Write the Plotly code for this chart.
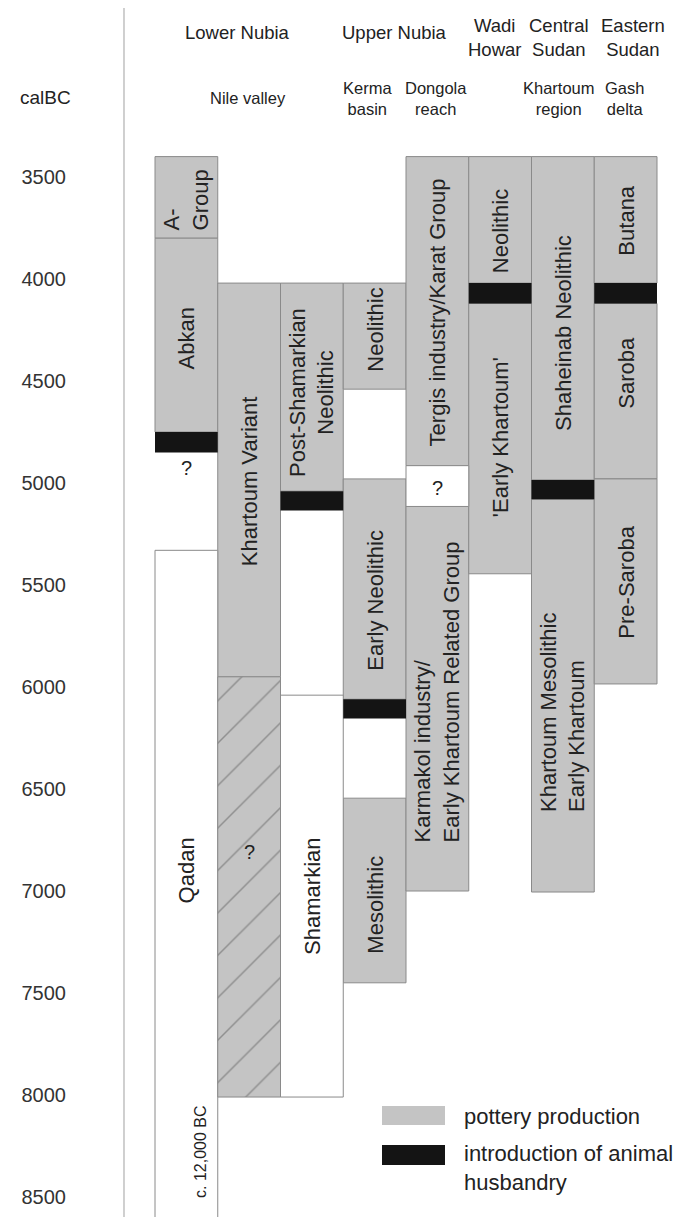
import plotly.graph_objects as go

# ---------------- data ----------------
region_names = ["Lower Nubia", "Upper Nubia", "Wadi<br>Howar", "Central<br>Sudan", "Eastern<br>Sudan"]
subregion_names = ["Nile valley", "Kerma<br>basin", "Dongola<br>reach", "Khartoum<br>region", "Gash<br>delta"]
year_ticks = [3500, 4000, 4500, 5000, 5500, 6000, 6500, 7000, 7500, 8000, 8500]

period_labels = ["A-<br>Group", "Abkan", "?", "Qadan",
                 "Khartoum Variant", "?",
                 "Post-Shamarkian<br>Neolithic", "Shamarkian",
                 "Neolithic", "Early Neolithic", "Mesolithic",
                 "Tergis industry/Karat Group", "?", "Karmakol industry/<br>Early Khartoum Related Group",
                 "Neolithic", "'Early Khartoum'",
                 "Shaheinab Neolithic", "Khartoum Mesolithic<br>Early Khartoum",
                 "Butana", "Saroba", "Pre-Saroba"]
period_column = [0, 0, 0, 0, 1, 1, 2, 2, 3, 3, 3, 4, 4, 4, 5, 5, 6, 6, 7, 7, 7]
period_start = [3400, 3800, 4850, 5330, 4020, 5950, 4020, 6040, 4020, 4980, 6545,
                3400, 4915, 5115, 3400, 4120, 3400, 5080, 3400, 4120, 4980]
period_end = [3800, 4750, 5330, 12000, 5950, 8010, 5040, 8010, 4540, 6060, 7450,
              4915, 5115, 7000, 4020, 5445, 4985, 7005, 4020, 4980, 5985]
period_kind = ["pottery", "pottery", "gap", "aceramic", "pottery", "uncertain",
               "pottery", "aceramic", "pottery", "pottery", "pottery",
               "pottery", "aceramic", "pottery", "pottery", "pottery",
               "pottery", "pottery", "pottery", "pottery", "pottery"]

husbandry_column = [0, 2, 3, 5, 6, 7]
husbandry_start = [4750, 5040, 6060, 4020, 4985, 4020]
husbandry_end = [4850, 5135, 6155, 4120, 5080, 4120]

legend_labels = ["pottery production", "introduction of animal<br>husbandry"]
qadan_note = "c. 12,000 BC"
axis_title = "calBC"

# ---------------- styling / placement ----------------
W, H = 676, 1217
FONT = "Liberation Sans, Arial, Helvetica, sans-serif"
TXT = "#222222"
GREY = "#c4c4c4"
EDGE = "#8a8a8a"
BLACK = "#141414"
COL0_PX, COL_W_PX = 155.0, 62.75
Y0_PX, PX_PER_YEAR = 177.0, 0.204
LEFT_MARGIN = 70


def xd(px):
    return (px - COL0_PX) / COL_W_PX


def yd(px):
    return 3500 + (px - Y0_PX) / PX_PER_YEAR


def xp(px):
    return (px - LEFT_MARGIN) / (W - LEFT_MARGIN)


def yp(px):
    return 1 - px / H


# label centre positions (pixel rows) and options, per period
label_row_px = [200, 338, 468, 870, 481, 852, 392, 896, 330, 600, 905,
                312, 488, 692, 231, 437, 333, 712, 221, 373, 582]
label_rotated = [True, True, False, True, True, False, True, True, True, True, True,
                 True, False, True, True, True, True, True, True, True, True]
label_align = ["left", "center", "center", "center", "center", "center", "center", "center",
               "center", "center", "center", "center", "center", "left", "center", "center",
               "center", "left", "center", "center", "center"]

fig = go.Figure()

fills = {"pottery": dict(color=GREY, line=dict(color=EDGE, width=1)),
         "aceramic": dict(color="white", line=dict(color=EDGE, width=1)),
         "uncertain": dict(color=GREY, line=dict(color=EDGE, width=1),
                           pattern=dict(shape="/", fgcolor="#5a5a5a", bgcolor=GREY,
                                        size=30, solidity=0.05))}

for kind, mk in fills.items():
    idx = [i for i, k in enumerate(period_kind) if k == kind]
    fig.add_trace(go.Bar(
        x=[period_column[i] + 0.5 for i in idx],
        y=[period_end[i] - period_start[i] for i in idx],
        base=[period_start[i] for i in idx],
        width=1, marker=mk, showlegend=False, hoverinfo="skip"))

fig.add_trace(go.Bar(
    x=[c + 0.5 for c in husbandry_column],
    y=[e - s for s, e in zip(husbandry_start, husbandry_end)],
    base=husbandry_start, width=1,
    marker=dict(color=BLACK, line=dict(color=BLACK, width=0)),
    showlegend=False, hoverinfo="skip"))

ann = []
for i, lab in enumerate(period_labels):
    ann.append(dict(x=period_column[i] + 0.5, y=yd(label_row_px[i]), xref="x", yref="y",
                    xanchor="center", yanchor="middle",
                    text=lab, showarrow=False, textangle=-90 if label_rotated[i] else 0,
                    align=label_align[i], font=dict(size=22 if label_rotated[i] else 20,
                                                    color=TXT, family=FONT)))

ann.append(dict(x=xd(200), y=yd(1152), xref="x", yref="y", text=qadan_note, showarrow=False,
                xanchor="center", yanchor="middle",
                textangle=-90, font=dict(size=16, color=TXT, family=FONT)))


def label(text, xpx, ypx, size, xanchor="center", align="center"):
    ann.append(dict(x=xp(xpx), y=yp(ypx), xref="paper", yref="paper", text=text,
                    showarrow=False, xanchor=xanchor, yanchor="middle", align=align,
                    font=dict(size=size, color=TXT, family=FONT)))


# headers
region_x_px = [237, 394, 494, 559, 633]
region_y_px = [33, 33, 37, 37, 37]
for name, xx, yy in zip(region_names, region_x_px, region_y_px):
    label(name, xx, yy, 18.5)
sub_x_px = [248, 367, 436, 559, 624]
sub_y_px = [98, 98, 98, 98, 98]
for name, xx, yy in zip(subregion_names, sub_x_px, sub_y_px):
    label(name, xx, yy, 16.5)
label(axis_title, 45, 97, 19)

# legend
label(legend_labels[0], 462, 1116, 22, xanchor="left", align="left")
label(legend_labels[1], 462, 1168, 22, xanchor="left", align="left")

shapes = [
    dict(type="line", xref="paper", yref="paper", x0=xp(124), x1=xp(124), y0=yp(8), y1=0,
         line=dict(color="#b0b0b0", width=1.2)),
    dict(type="rect", xref="paper", yref="paper", x0=xp(382), x1=xp(445), y0=yp(1106), y1=yp(1125),
         fillcolor=GREY, line=dict(color=GREY, width=0)),
    dict(type="rect", xref="paper", yref="paper", x0=xp(382), x1=xp(445), y0=yp(1145), y1=yp(1165),
         fillcolor=BLACK, line=dict(color=BLACK, width=0)),
]

fig.update_layout(
    width=W, height=H, margin=dict(l=LEFT_MARGIN, r=0, t=0, b=0),
    paper_bgcolor="white", plot_bgcolor="white", barmode="overlay",
    annotations=ann, shapes=shapes, showlegend=False,
    xaxis=dict(range=[xd(LEFT_MARGIN), xd(W)], visible=False, fixedrange=True),
    yaxis=dict(range=[yd(H), yd(0)], tickvals=year_ticks, ticktext=[str(t) for t in year_ticks],
               showgrid=False, zeroline=False, showline=False, ticks="", ticklabelstandoff=3,
               tickfont=dict(size=20, color="#333333", family=FONT), fixedrange=True),
)

fig.write_html("out.html")
